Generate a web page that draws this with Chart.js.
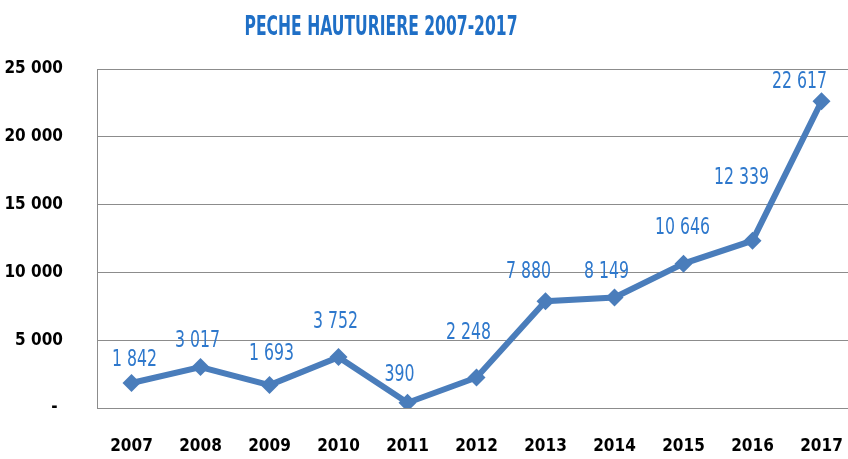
<!DOCTYPE html>
<html>
<head>
<meta charset="utf-8">
<script src="https://cdn.jsdelivr.net/npm/chart.js@4.4.1/dist/chart.umd.min.js"></script>
<style>
  html, body { margin: 0; padding: 0; background: #fff; overflow: hidden; }
  #wrap { width: 865px; height: 459px; position: relative; }
</style>
</head>
<body>
<div id="wrap"><canvas id="chart-peche"></canvas></div>
<script>
  const titre = 'PECHE HAUTURIERE 2007-2017';
  const annees = ['2007', '2008', '2009', '2010', '2011', '2012', '2013', '2014', '2015', '2016', '2017'];
  const captures = [1842, 3017, 1693, 3752, 390, 2248, 7880, 8149, 10646, 12339, 22617];
  const ticksY = [0, 5000, 10000, 15000, 20000, 25000];

  // decalage des etiquettes par rapport au point (px)
  const decalEtiquettes = [
    [3, -23], [-3, -26], [2, -31], [-3, -35], [-8, -28], [-8, -44],
    [-17, -29], [-8, -25], [-1, -36], [-11, -63], [-22, -19]
  ];

  const narrow = '"Liberation Sans Narrow", "DejaVu Sans Condensed", "Arial Narrow", sans-serif';
  const bleu = '#4a7dbb';
  const bleuTexte = '#2e78cc';

  const fmt = v => v.toString().replace(/\B(?=(\d{3})+(?!\d))/g, ' ');

  // texte comprime horizontalement (police etroite facon Calibri)
  function texteEtroit(ctx, txt, x, y, sx) {
    ctx.save();
    ctx.translate(x, y);
    ctx.scale(sx, 1);
    ctx.fillText(txt, 0, 0);
    ctx.restore();
  }

  const decor = {
    id: 'decor',
    afterDatasetsDraw(chart) {
      const ctx = chart.ctx;
      const meta = chart.getDatasetMeta(0);
      ctx.save();
      ctx.textAlign = 'center';
      ctx.textBaseline = 'middle';

      // etiquettes de valeurs
      ctx.font = '23px ' + narrow;
      ctx.fillStyle = bleuTexte;
      meta.data.forEach((pt, i) => {
        const d = decalEtiquettes[i];
        texteEtroit(ctx, fmt(captures[i]), pt.x + d[0], pt.y + d[1], 0.76);
      });

      // titre
      ctx.font = 'bold 27px ' + narrow;
      ctx.fillStyle = '#1f6fc6';
      const w = ctx.measureText(titre).width;
      texteEtroit(ctx, titre, 381, 28, 273 / w);
      ctx.restore();
    }
  };

  new Chart(document.getElementById('chart-peche'), {
    type: 'line',
    data: {
      labels: annees,
      datasets: [{
        data: captures,
        borderColor: bleu,
        backgroundColor: bleu,
        borderWidth: 6,
        pointStyle: 'rectRot',
        pointRadius: 9,
        pointBorderWidth: 0,
        tension: 0
      }]
    },
    options: {
      responsive: true,
      maintainAspectRatio: false,
      animation: false,
      layout: { padding: { left: 0, right: 1, top: 69, bottom: 0 } },
      plugins: {
        legend: { display: false },
        tooltip: { enabled: false },
        title: { display: false }
      },
      scales: {
        x: {
          offset: true,
          afterFit: s => { s.height = 51; },
          grid: { display: false },
          border: { display: true, color: '#8c8c8c', width: 1 },
          ticks: {
            color: '#000',
            font: { family: narrow, size: 17, weight: 'bold' },
            padding: 20,
            maxRotation: 0
          }
        },
        y: {
          min: 0,
          max: 25000,
          afterBuildTicks: s => { s.ticks = ticksY.map(v => ({ value: v })); },
          afterFit: s => { s.width = 97; },
          grid: { color: '#8c8c8c', lineWidth: 1, drawTicks: false },
          border: { display: true, color: '#8c8c8c', width: 1 },
          ticks: {
            color: '#000',
            font: { family: narrow, size: 17, weight: 'bold' },
            padding: 34,
            callback: v => v === 0 ? '- ' : fmt(v)
          }
        }
      }
    },
    plugins: [decor]
  });
</script>
</body>
</html>
